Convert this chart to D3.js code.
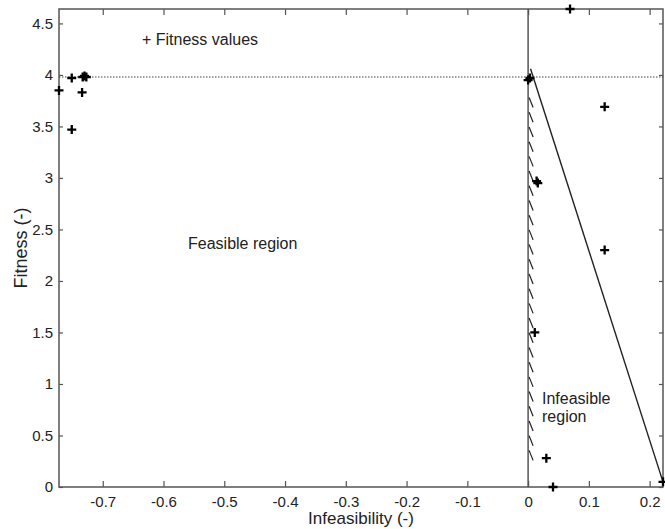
<!DOCTYPE html>
<html>
<head>
<meta charset="utf-8">
<script src="https://cdn.jsdelivr.net/npm/d3@7"></script>
<style>
  body { margin: 0; background: #fff; }
  text { font-family: "Liberation Sans", Arial, sans-serif; fill: #222; }
</style>
</head>
<body>
<script>
// feasible points (left cluster)
var feasX = [-0.772, -0.751, -0.734, -0.733, -0.730, -0.727, -0.751];
var feasY = [3.85, 3.97, 3.83, 3.98, 3.99, 3.98, 3.47];
// infeasible points (right of zero)
var infeasX = [0.069, 0.000, 0.003, 0.126, 0.014, 0.016, 0.126, 0.011, 0.030, 0.041, 0.222];
var infeasY = [4.64, 3.95, 3.97, 3.69, 2.97, 2.95, 2.30, 1.50, 0.28, 0.00, 0.05];

var xTicks = [-0.7, -0.6, -0.5, -0.4, -0.3, -0.2, -0.1, 0, 0.1, 0.2];
var xLabels = ['-0.7', '-0.6', '-0.5', '-0.4', '-0.3', '-0.2', '-0.1', '0', '0.1', '0.2'];
var yTicks = [0, 0.5, 1, 1.5, 2, 2.5, 3, 3.5, 4, 4.5];

var bestFitness = 3.98;          // dotted line
var boundX = [0.004, 0.222];     // slanted boundary line
var boundY = [4.06, 0.05];
var hatchY = [3.78, 0.34];       // hatched constraint range at x = 0

const width = 665, height = 529;
const margin = {top: 9, right: 2, bottom: 42, left: 59};
const w = width - margin.left - margin.right;
const h = height - margin.top - margin.bottom;

const x = d3.scaleLinear().domain([-0.772, 0.222]).range([0, w]);
const y = d3.scaleLinear().domain([0, 4.64]).range([h, 0]);

const svg = d3.select('body').append('svg')
    .attr('width', width).attr('height', height);
const g = svg.append('g')
    .attr('transform', `translate(${margin.left},${margin.top})`);

const axisColor = '#555';
function styleAxis(sel) {
    sel.select('.domain').remove();
    sel.selectAll('line').attr('stroke', axisColor).attr('stroke-width', 1.2);
    sel.selectAll('text').style('font-size', '15px').attr('fill', '#222');
}

g.append('g').attr('transform', `translate(0,${h})`)
    .call(d3.axisBottom(x).tickValues(xTicks).tickSize(-6).tickPadding(9)
        .tickFormat((d, i) => xLabels[i]))
    .call(styleAxis);
g.append('g')
    .call(d3.axisTop(x).tickValues(xTicks).tickSize(-6).tickFormat(''))
    .call(styleAxis);
g.append('g')
    .call(d3.axisLeft(y).tickValues(yTicks).tickSize(-4).tickPadding(6)
        .tickFormat(d3.format('~g')))
    .call(styleAxis);
g.append('g').attr('transform', `translate(${w},0)`)
    .call(d3.axisRight(y).tickValues(yTicks).tickSize(-4).tickFormat(''))
    .call(styleAxis);

g.append('rect').attr('width', w).attr('height', h)
    .attr('fill', 'none').attr('stroke', axisColor).attr('stroke-width', 1.5);

// dotted best-fitness line
g.append('line')
    .attr('x1', 0).attr('x2', w)
    .attr('y1', y(bestFitness)).attr('y2', y(bestFitness))
    .attr('stroke', '#444').attr('stroke-width', 1.2)
    .attr('stroke-dasharray', '1.5,1.5');

// vertical line at zero
g.append('line')
    .attr('x1', x(0)).attr('x2', x(0))
    .attr('y1', y(0)).attr('y2', 0)
    .attr('stroke', '#555').attr('stroke-width', 1.5);

// slanted boundary
g.append('line')
    .attr('x1', x(boundX[0])).attr('y1', y(boundY[0]))
    .attr('x2', x(boundX[1])).attr('y2', y(boundY[1]))
    .attr('stroke', '#222').attr('stroke-width', 1.4);

// hatch marks along zero line
var hatchStart = y(hatchY[0]), hatchEnd = y(hatchY[1]);
var hatches = d3.range(hatchStart, hatchEnd, 14.7);
g.selectAll('.hatch').data(hatches).enter().append('line')
    .attr('class', 'hatch')
    .attr('x1', x(0) + 1).attr('y1', d => d)
    .attr('x2', x(0) + 5).attr('y2', d => d + 10)
    .attr('stroke', '#222').attr('stroke-width', 1.2);

// plus markers
var pts = feasX.map((v, i) => [v, feasY[i]])
    .concat(infeasX.map((v, i) => [v, infeasY[i]]));
g.selectAll('.pt').data(pts).enter().append('path')
    .attr('class', 'pt')
    .attr('transform', d => `translate(${x(d[0])},${y(d[1])})`)
    .attr('d', 'M-4.5,0H4.5M0,-4.5V4.5')
    .attr('stroke', '#000').attr('stroke-width', 2.3);

// annotations
svg.append('text').attr('x', 142).attr('y', 45)
    .style('font-size', '16px').text('+ Fitness values');
svg.append('text').attr('x', 188).attr('y', 249)
    .style('font-size', '16px').text('Feasible region');
svg.append('text').attr('x', 542).attr('y', 404)
    .style('font-size', '16px').text('Infeasible');
svg.append('text').attr('x', 542).attr('y', 422)
    .style('font-size', '16px').text('region');

// axis titles
svg.append('text')
    .attr('x', margin.left + w / 2).attr('y', 524)
    .attr('text-anchor', 'middle')
    .style('font-size', '17px').text('Infeasibility (-)');
svg.append('text')
    .attr('transform', `translate(27,${margin.top + h / 2}) rotate(-90)`)
    .attr('text-anchor', 'middle')
    .style('font-size', '18px').text('Fitness (-)');
</script>
</body>
</html>
